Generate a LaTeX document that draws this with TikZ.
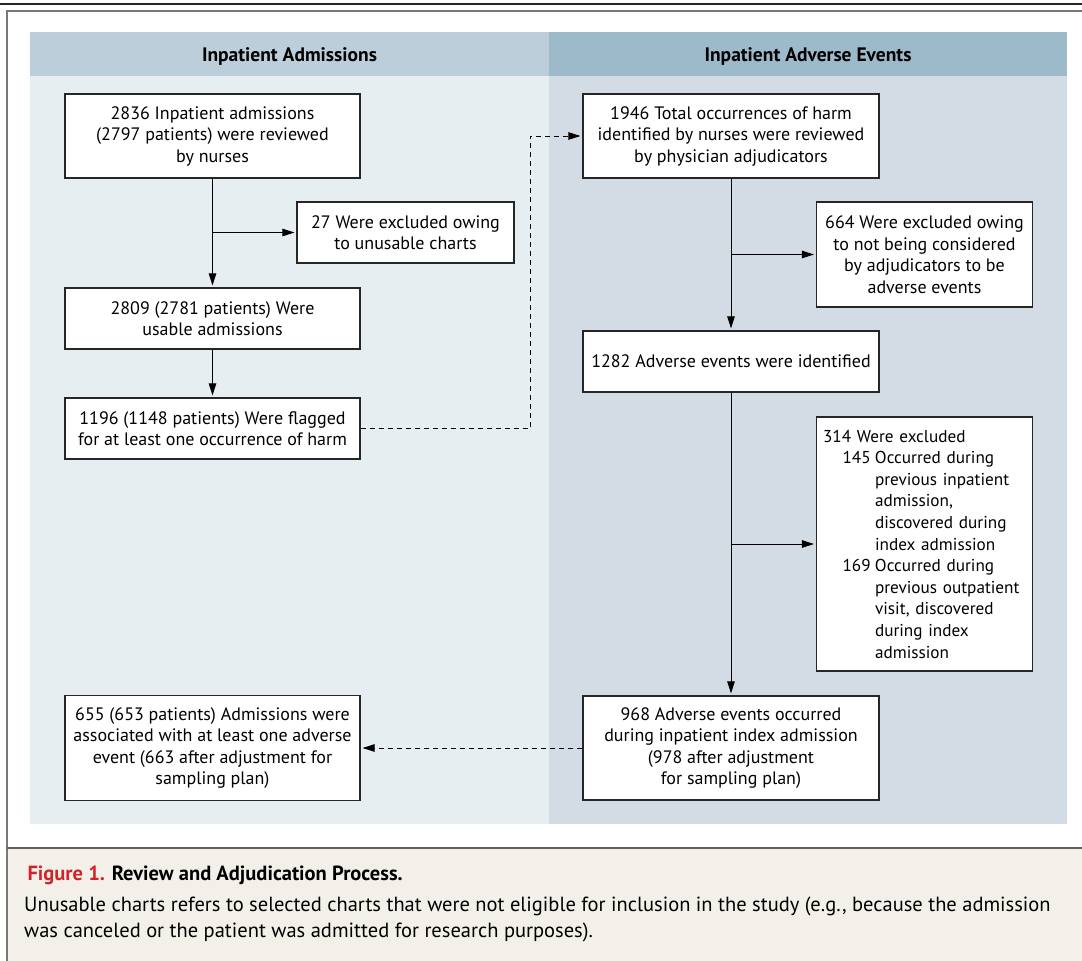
\documentclass[tikz,border=0pt]{standalone}
\usepackage{fontspec}
\setmainfont{PT Sans}
\usepackage{xcolor}
\definecolor{hdl}   {RGB}{188, 206, 218}
\definecolor{hdr}   {RGB}{157, 186, 203}
\definecolor{bgl}   {RGB}{230, 238, 242}
\definecolor{bgr}   {RGB}{211, 220, 228}
\definecolor{capbg} {RGB}{243, 240, 233}
\definecolor{figred}{RGB}{210, 35, 42}
\definecolor{frm}   {RGB}{120, 120, 120}
\usetikzlibrary{arrows.meta, positioning}

\begin{document}
\begin{tikzpicture}[x=1pt, y=-1pt,
		every node/.style={font=\fontsize{18}{21.5}\selectfont, align=center},
		box/.style={draw=black!85, line width=1.2pt, fill=white, inner sep=0pt},
		head/.style={font=\fontsize{19.5}{22}\selectfont\bfseries},
		flow/.style={line width=0.9pt, -{Triangle[length=12pt,width=7.5pt]}, shorten >=2pt},
		link/.style={flow, dash pattern=on 5pt off 4pt}]
		\useasboundingbox (0,0) rectangle (1082,961);
		% frame and caption band
		\fill[capbg] (7,848) rectangle (1082,961);
		\draw[black!85, line width=2pt] (0,4) -- (1082,4);
		\draw[frm, line width=2pt] (7,961) -- (7,10.5) -- (1082,10.5);
		\draw[frm!80!black, line width=2pt] (7,848) -- (1082,848);
		% two panels
		\fill[bgl] (30,76) rectangle (549,824);
		\fill[bgr] (549,76) rectangle (1067,824);
		\fill[hdl] (30,32) rectangle (549,76);
		\fill[hdr] (549,32) rectangle (1067,76);
		\node[head] (hleft) at (289.5,57) {Inpatient Admissions};
		\node[head] (hright) at (808,57) {Inpatient Adverse Events};
		% left column
		\node[box, minimum width=295pt, minimum height=84pt] (adm) at (212.5,136) {2836 Inpatient admissions\\(2797 patients) were reviewed\\by nurses};
		\node[box, minimum width=217pt, minimum height=61pt] (excl) at (405.5,232.5) {27 Were excluded owing\\to unusable charts};
		\node[box, minimum width=295pt, minimum height=61pt] (usable) at (212.5,318.5) {2809 (2781 patients) Were\\usable admissions};
		\node[box, minimum width=295pt, minimum height=61pt] (flag) at (212.5,428.5) {1196 (1148 patients) Were flagged\\for at least one occurrence of harm};
		\node[box, minimum width=295pt, minimum height=105pt] (assoc) at (212.5,748) {655 (653 patients) Admissions were\\associated with at least one adverse\\event (663 after adjustment for\\sampling plan)};
		% right column
		\node[box, minimum width=296pt, minimum height=84pt] (harm) at (731,136) {1946 Total occurrences of harm\\identified by nurses were reviewed\\by physician adjudicators};
		\node[box, minimum width=216pt, minimum height=105pt] (notae) at (924.5,254.5) {664 Were excluded owing\\to not being considered\\by adjudicators to be\\adverse events};
		\node[box, minimum width=296pt, minimum height=61pt] (found) at (731,361.5) {1282 Adverse events were identified};
		\node[box, align=left, text width=203pt, inner xsep=6.5pt, minimum height=254pt, font=\fontsize{17.2}{21.6}\selectfont] (prior) at (924.5,544) {\mbox{314 Were excluded}\\
			\mbox{\hspace*{19.5pt}\makebox[32.5pt][l]{145}Occurred during}\\
			\mbox{\hspace*{52pt}previous inpatient}\\
			\mbox{\hspace*{52pt}admission,}\\
			\mbox{\hspace*{52pt}discovered during}\\
			\mbox{\hspace*{52pt}index admission}\\
			\mbox{\hspace*{19.5pt}\makebox[32.5pt][l]{169}Occurred during}\\
			\mbox{\hspace*{52pt}previous outpatient}\\
			\mbox{\hspace*{52pt}visit, discovered}\\
			\mbox{\hspace*{52pt}during index}\\
			\mbox{\hspace*{52pt}admission}};
		\node[box, minimum width=296pt, minimum height=104pt] (index) at (731,748) {968 Adverse events occurred\\during inpatient index admission\\(978 after adjustment\\for sampling plan)};
		\coordinate (bend) at (530,136);
		% connectors
		\draw[flow] (adm) -- (usable);
		\draw[flow] (adm.south |- excl.west) -- (excl.west);
		\draw[flow] (usable) -- (flag);
		\draw[link] (flag.east) -| (bend) -- (harm.west);
		\draw[flow] (harm) -- (found);
		\draw[flow] (harm.south |- notae.west) -- (notae.west);
		\draw[flow] (found) -- (index);
		\draw[flow] (found.south |- prior.west) -- (prior.west);
		\draw[link] (index.west) -- (assoc.east);
		% caption
		\node[anchor=west, font=\fontsize{20.5}{24}\selectfont\bfseries] (ctitle) at (24,875) {\textcolor{figred}{Figure 1.} Review and Adjudication Process.};
		\node[anchor=north west, align=left, inner sep=0pt, font=\fontsize{20.5}{26}\selectfont] (cbody) at (24,897) {Unusable charts refers to selected charts that were not eligible for inclusion in the study (e.g., because the admission\\was canceled or the patient was admitted for research purposes).};
	\end{tikzpicture}
\end{document}
